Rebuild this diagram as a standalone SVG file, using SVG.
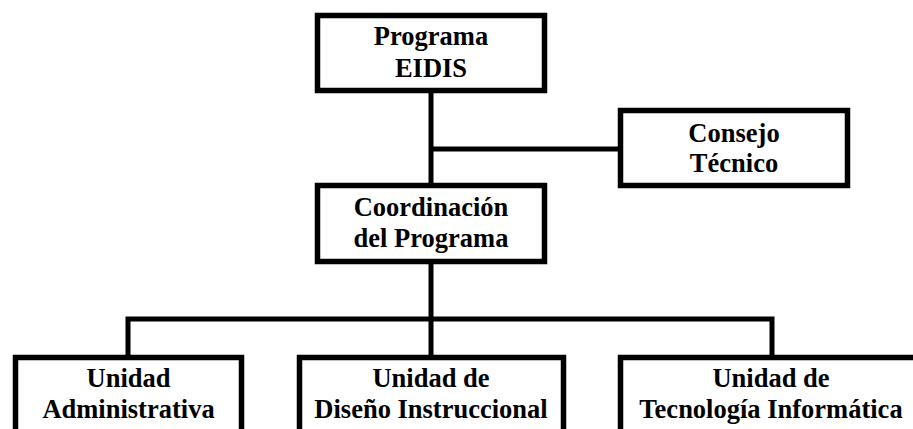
<svg xmlns="http://www.w3.org/2000/svg" width="913" height="429" viewBox="0 0 913 429">
  <style>
    .box { fill: #ffffff; stroke: #000000; stroke-width: 5.5; }
    .link { fill: none; stroke: #000000; stroke-width: 5; stroke-linecap: butt; stroke-linejoin: miter; }
    .label { font-family: "Liberation Serif", "Times New Roman", Times, serif; font-weight: 700; font-size: 26.5px; fill: #000000; text-anchor: middle; }
  </style>
  <rect width="913" height="429" fill="#ffffff"/>

  <!-- org chart links -->
  <g id="connectors">
    <path class="link" d="M431,93 V183"/>
    <path class="link" d="M431,149 H618"/>
    <path class="link" d="M431,264 V355"/>
    <path class="link" d="M128,355 V319 H772 V355"/>
  </g>

  <g id="programa">
    <rect class="box" x="317.5" y="15.5" width="227" height="75"/>
    <text class="label" x="431" y="45">Programa</text>
    <text class="label" x="431" y="77">EIDIS</text>
  </g>

  <g id="consejo">
    <rect class="box" x="620.5" y="110.5" width="227" height="75"/>
    <text class="label" x="734" y="142">Consejo</text>
    <text class="label" x="734" y="172">Técnico</text>
  </g>

  <g id="coordinacion">
    <rect class="box" x="317.5" y="185.5" width="227" height="76"/>
    <text class="label" x="431" y="216">Coordinación</text>
    <text class="label" x="431" y="247">del Programa</text>
  </g>

  <!-- bottom row units run past the lower edge -->
  <g id="unidad-administrativa">
    <rect class="box" x="15.5" y="357.5" width="226" height="100"/>
    <text class="label" x="128.5" y="387">Unidad</text>
    <text class="label" x="128.5" y="418">Administrativa</text>
  </g>

  <g id="unidad-diseno">
    <rect class="box" x="299.5" y="357.5" width="264" height="100"/>
    <text class="label" x="431" y="387">Unidad de</text>
    <text class="label" x="431" y="418">Diseño Instruccional</text>
  </g>

  <g id="unidad-tecnologia">
    <rect class="box" x="620.5" y="357.5" width="300" height="100"/>
    <text class="label" x="771" y="387">Unidad de</text>
    <text class="label" x="771" y="418">Tecnología Informática</text>
  </g>
</svg>
